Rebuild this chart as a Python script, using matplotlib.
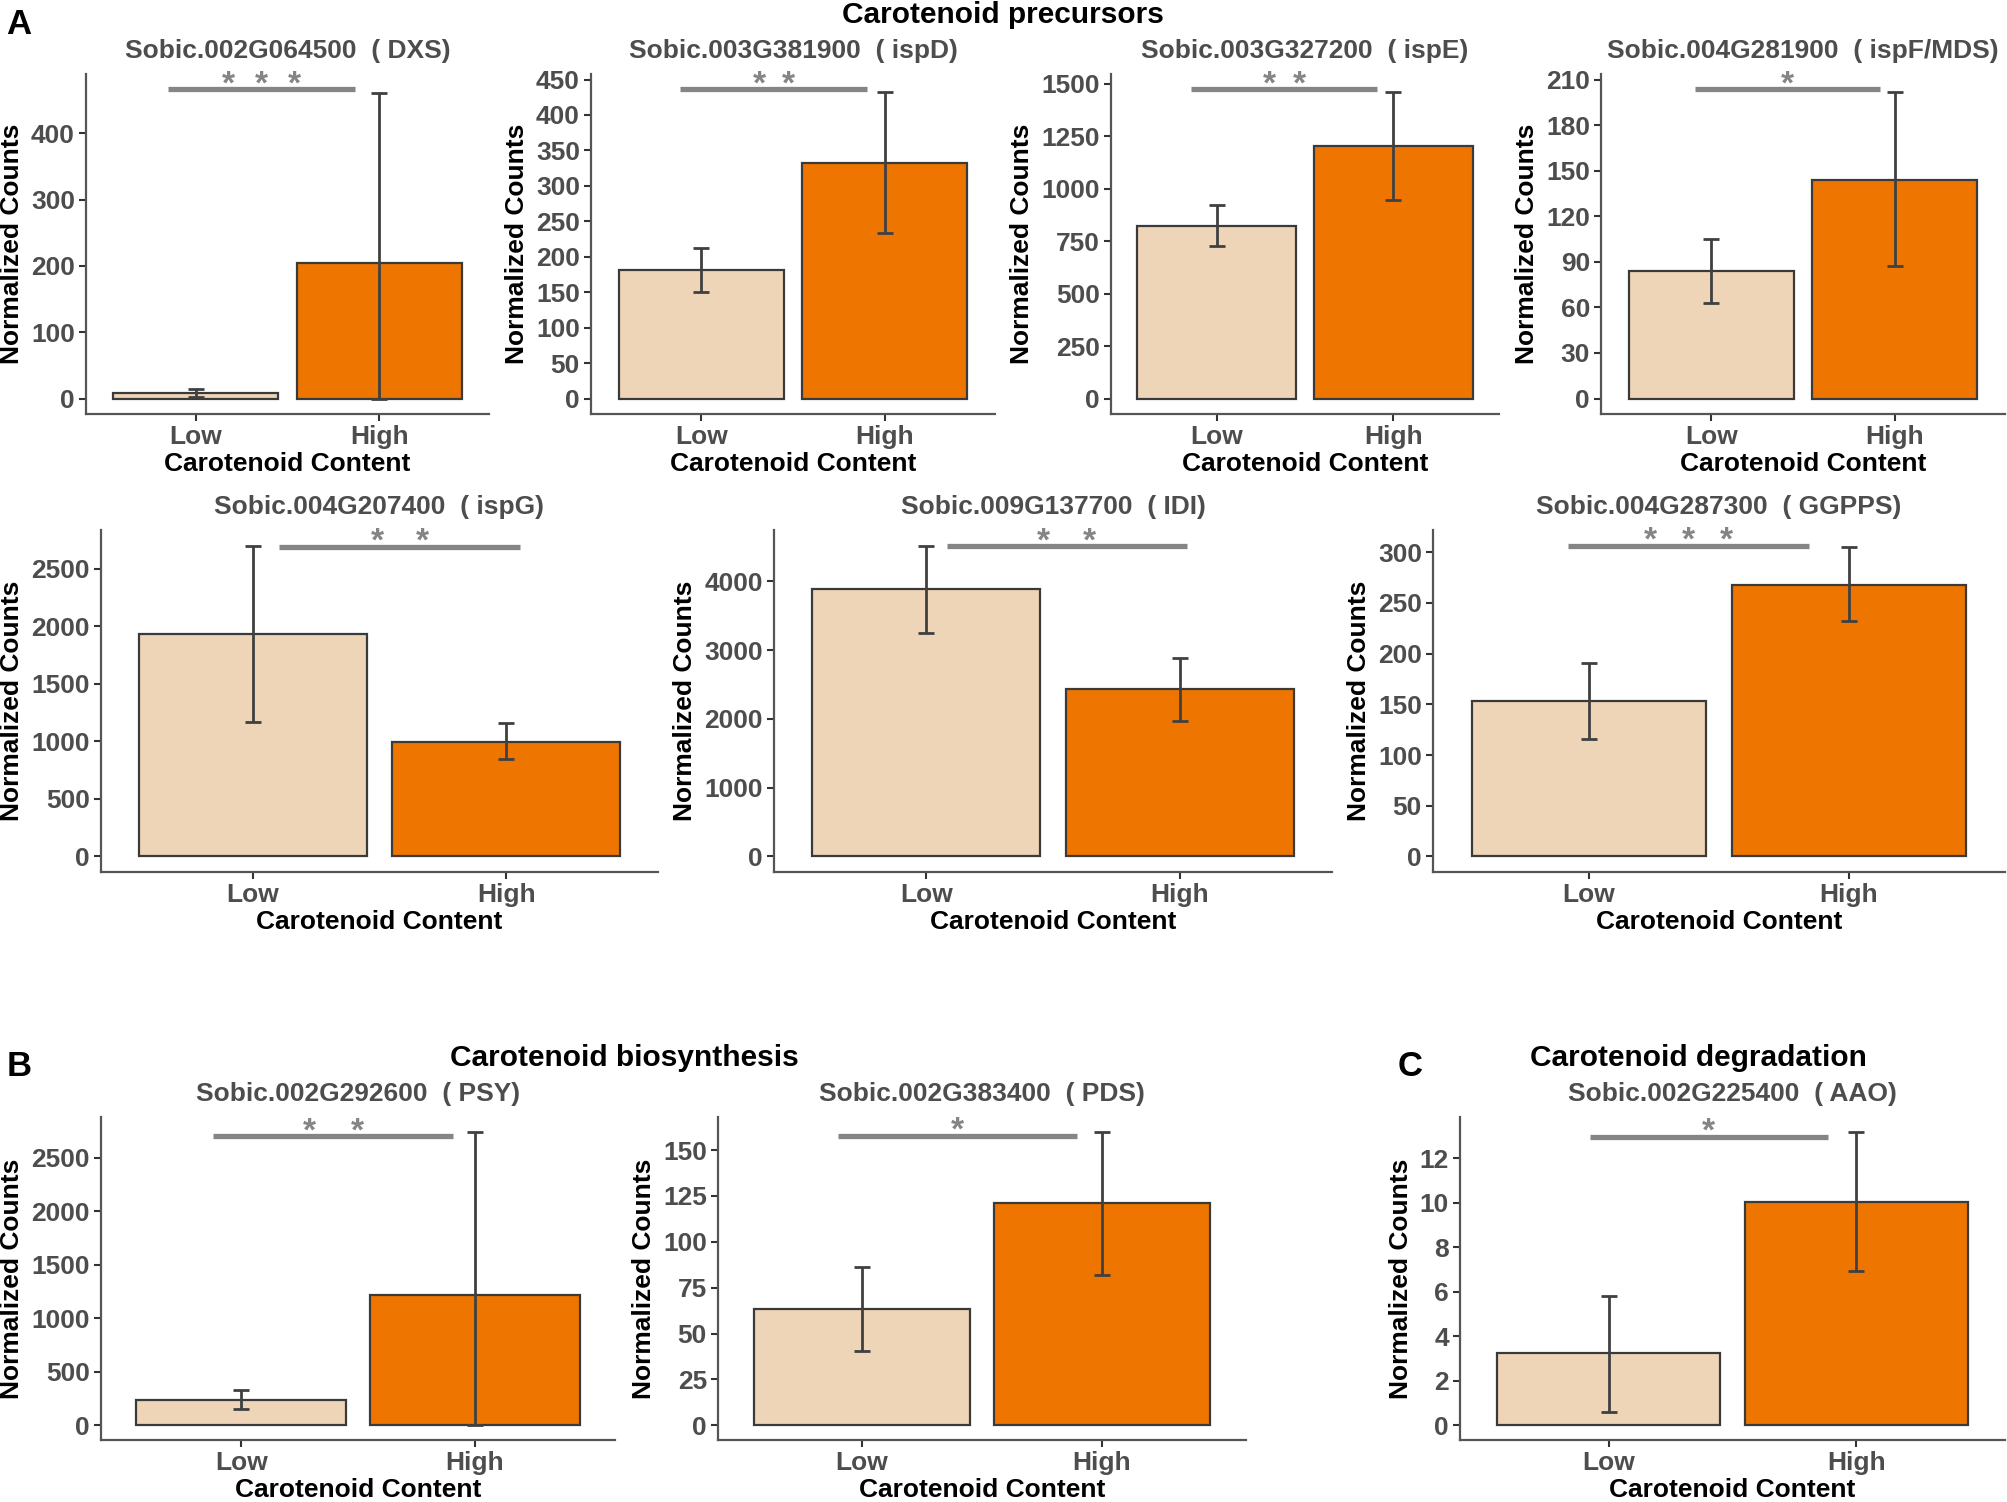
import matplotlib
matplotlib.use('Agg')
import matplotlib.pyplot as plt
import numpy as np

plt.rcParams['font.family'] = ['Liberation Sans', 'DejaVu Sans']

# ---------------- data ----------------
groups = ['Low', 'High']
gene_ids = ['Sobic.002G064500', 'Sobic.003G381900', 'Sobic.003G327200', 'Sobic.004G281900',
            'Sobic.004G207400', 'Sobic.009G137700', 'Sobic.004G287300',
            'Sobic.002G292600', 'Sobic.002G383400', 'Sobic.002G225400']
gene_names = ['DXS', 'ispD', 'ispE', 'ispF/MDS', 'ispG', 'IDI', 'GGPPS', 'PSY', 'PDS', 'AAO']

mean_low = [8, 181, 821, 84, 1934, 3889, 153, 233, 63.5, 3.23]
low_err_min = [2, 150, 726, 63, 1170, 3246, 116, 149, 40.3, 0.6]
low_err_max = [15, 212, 921, 105, 2703, 4521, 191, 326, 86.5, 5.82]
mean_high = [205, 332, 1201, 144, 996, 2429, 268, 1219, 121, 10.02]
high_err_min = [0, 233, 945, 87, 843, 1971, 232, 0, 82, 6.91]
high_err_max = [461, 432, 1459, 202, 1156, 2891, 305, 2745, 160, 13.19]

sig_labels = ['***', '**', '**', '*', '**', '**', '***', '**', '*', '*']
sig_y = [466, 436, 1472, 203.5, 2694, 4511, 306.6, 2705, 157.8, 12.97]
sig_x_start = [0.847, 0.886, 0.855, 0.913, 1.103, 1.081, 0.921, 0.880, 0.900, 0.924]
sig_x_end = [1.869, 1.902, 1.909, 1.918, 2.055, 2.028, 1.845, 1.906, 1.896, 1.884]

ytick_step = [100, 50, 250, 30, 500, 1000, 50, 500, 25, 2]
ytick_max = [400, 450, 1500, 210, 2500, 4000, 300, 2500, 150, 12]

section_titles = ['Carotenoid precursors', 'Carotenoid biosynthesis', 'Carotenoid degradation']
panel_letters = ['A', 'B', 'C']

# ---------------- layout (pixels in 2008x1502) ----------------
W, H = 2008, 1502
rects = [
    (86, 489, 74, 414), (591, 995, 74, 414), (1111, 1499, 74, 414), (1601, 2005, 74, 414),
    (101, 658, 530, 872), (774, 1332, 530, 872), (1433, 2005, 530, 872),
    (101, 615, 1117, 1440), (718, 1246, 1117, 1440), (1460, 2005, 1117, 1440),
]
star_gap_px = [33, 29, 30, 0, 45, 46, 38, 48, 0, 0]

LOW_COL = '#EED5B7'
HIGH_COL = '#EE7600'
GREY30 = '#4D4D4D'
SIG_COL = '#858585'

fig = plt.figure(figsize=(W / 100, H / 100), dpi=100)

for i in range(10):
    l, r, t, b = rects[i]
    ax = fig.add_axes([l / W, 1 - b / H, (r - l) / W, (b - t) / H])
    x = np.array([1, 2])
    heights = [mean_low[i], mean_high[i]]
    ax.bar(x, heights, width=0.9, color=[LOW_COL, HIGH_COL],
           edgecolor='#3a3a3a', linewidth=1.6, zorder=2)
    yerr = np.array([[mean_low[i] - low_err_min[i], mean_high[i] - high_err_min[i]],
                     [low_err_max[i] - mean_low[i], high_err_max[i] - mean_high[i]]])
    ax.errorbar(x, heights, yerr=yerr, fmt='none', ecolor='#404040',
                elinewidth=2.0, capsize=5.5, capthick=2.0, zorder=3)
    # significance bar
    ax.plot([sig_x_start[i], sig_x_end[i]], [sig_y[i], sig_y[i]], color=SIG_COL,
            linewidth=3.8, solid_capstyle='butt', zorder=4, clip_on=False)
    n = len(sig_labels[i])
    xc = (sig_x_start[i] + sig_x_end[i]) / 2
    gap_pt = star_gap_px[i] * 0.72
    for k in range(n):
        off = (k - (n - 1) / 2) * gap_pt
        ax.annotate('*', xy=(xc, sig_y[i]), xytext=(off, -3), textcoords='offset points',
                    ha='center', va='baseline', fontsize=24, fontweight='bold',
                    color=SIG_COL, annotation_clip=False)

    top = max(sig_y[i], high_err_max[i], low_err_max[i])
    ax.set_ylim(-0.05 * top, 1.05 * top)
    ax.set_xlim(0.4, 2.6)
    ax.set_xticks(x)
    ax.set_xticklabels(groups)
    ax.set_yticks(np.arange(0, ytick_max[i] + ytick_step[i] / 2, ytick_step[i]))
    ax.tick_params(axis='both', labelsize=19, colors='#333333', labelcolor=GREY30,
                   length=5, width=1.5, pad=3)
    for lab in ax.get_xticklabels() + ax.get_yticklabels():
        lab.set_fontweight('bold')
    for s in ['top', 'right']:
        ax.spines[s].set_visible(False)
    for s in ['left', 'bottom']:
        ax.spines[s].set_color('#555555')
        ax.spines[s].set_linewidth(1.6)
    ax.set_xlabel('Carotenoid Content', fontsize=19, fontweight='bold', color='black', labelpad=2)
    ax.set_ylabel('Normalized Counts', fontsize=19, fontweight='bold', color='black', labelpad=5)
    ax.annotate(f'{gene_ids[i]}  ( {gene_names[i]})', xy=(0.5, 1), xycoords='axes fraction',
                xytext=(0, 16.5), textcoords='offset points', ha='center', va='center',
                fontsize=19, fontweight='bold', color=GREY30, annotation_clip=False)

# section titles and letters
sec_pos = [(1003, 15), (624, 1058), (1698, 1058)]
let_pos = [(19, 24), (19, 1067), (1410, 1067)]
for k in range(3):
    fig.text(sec_pos[k][0] / W, 1 - sec_pos[k][1] / H, section_titles[k], ha='center', va='center',
             fontsize=21.5, fontweight='bold', color='black')
    fig.text(let_pos[k][0] / W, 1 - let_pos[k][1] / H, panel_letters[k], ha='center', va='center',
             fontsize=25, fontweight='bold', color='black')

fig.savefig('out.png', dpi=100, facecolor='white')
